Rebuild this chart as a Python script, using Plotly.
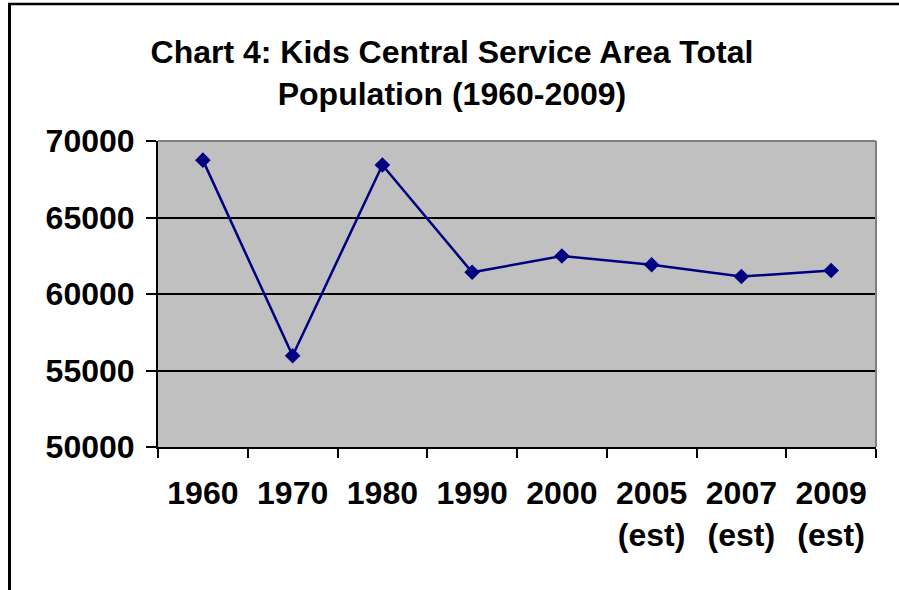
import plotly.graph_objects as go

categories = ["1960", "1970", "1980", "1990", "2000", "2005<br>(est)", "2007<br>(est)", "2009<br>(est)"]
population = [68750, 55960, 68430, 61420, 62480, 61910, 61140, 61540]
y_ticks = [50000, 55000, 60000, 65000, 70000]
y_tick_labels = ["50000", "55000", "60000", "65000", "70000"]

FONT = "Liberation Sans, Arial, sans-serif"

fig = go.Figure()
fig.add_trace(go.Scatter(
    x=categories, y=population, mode="lines+markers",
    line=dict(color="#000080", width=2.5),
    marker=dict(symbol="diamond", size=12, color="#000080"),
    cliponaxis=False,
))

W, H = 899, 590
L, R, T, B = 158, 23, 141, 143
pw, ph = W - L - R, H - T - B

def px_x(px):
    return (px - L) / pw

def px_y(py):
    return (H - B - py) / ph

fig.update_layout(
    width=W, height=H,
    margin=dict(l=L, r=R, t=T, b=B, pad=0),
    paper_bgcolor="white", plot_bgcolor="#C0C0C0",
    showlegend=False,
    font=dict(family=FONT, color="black", size=32, weight="bold"),
    title=dict(
        text="Chart 4: Kids Central Service Area Total<br>Population (1960-2009)",
        font=dict(family=FONT, size=32, color="black", weight="bold"),
        x=452 / W, xref="container", xanchor="center",
        y=1 - 63 / H, yref="container", yanchor="top",
    ),
    xaxis=dict(
        type="category", tickson="boundaries", ticks="outside", ticklen=9,
        tickwidth=2, tickcolor="black", showline=True, linecolor="black",
        linewidth=2, showgrid=False, ticklabelstandoff=17,
        tickfont=dict(family=FONT, size=32, color="black", weight="bold"),
        range=[-0.5, len(categories) - 0.5],
    ),
    yaxis=dict(
        range=[50000, 70000], tickvals=y_ticks, ticktext=y_tick_labels,
        ticks="outside", ticklen=10,
        tickwidth=2, tickcolor="black", showline=True, linecolor="black",
        linewidth=2, showgrid=True, gridcolor="black", gridwidth=2,
        zeroline=False, ticklabelstandoff=5,
        tickfont=dict(family=FONT, size=32, color="black", weight="bold"),
    ),
    shapes=[
        dict(type="line", xref="paper", yref="paper", x0=0, x1=1, y0=1, y1=1,
             line=dict(color="#808080", width=2), layer="above"),
        dict(type="line", xref="paper", yref="paper", x0=1, x1=1, y0=0, y1=1,
             line=dict(color="#808080", width=2), layer="above"),
        dict(type="line", xref="paper", yref="paper", x0=px_x(9.5), x1=px_x(9.5),
             y0=px_y(3), y1=px_y(600), line=dict(color="black", width=3)),
        dict(type="line", xref="paper", yref="paper", x0=px_x(8), x1=px_x(910),
             y0=px_y(4), y1=px_y(4), line=dict(color="black", width=2.5)),
    ],
)

fig.write_html("out.html", config={"displayModeBar": False},
               post_script="document.body.style.margin='0';document.body.style.overflow='hidden';")
